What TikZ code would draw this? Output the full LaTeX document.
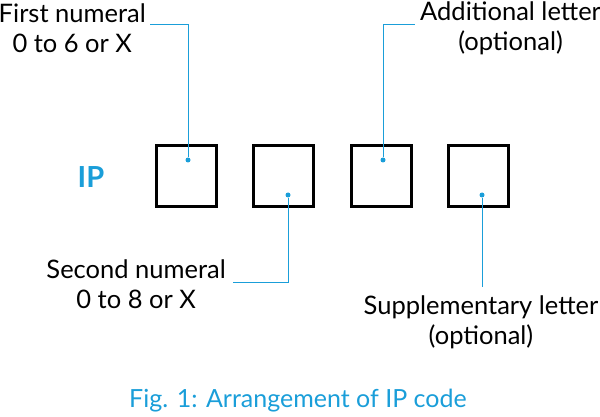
\documentclass[tikz,border=0pt]{standalone}
\usepackage{fontspec}
\setmainfont{Lato}
\usetikzlibrary{positioning}
\definecolor{ipblue}{HTML}{1A9ED9}
\tikzset{
  digit/.style={draw,line width=3pt,minimum size=60pt,inner sep=0pt},
  lbl/.style={font=\fontsize{25.5}{30}\selectfont,align=center,inner sep=0pt},
  dot/.style={circle,fill=ipblue,inner sep=0pt,minimum size=5pt},
  lead/.style={draw=ipblue,line width=1pt}
}
\begin{document}
\begin{tikzpicture}[x=1pt,y=-1pt]
  \useasboundingbox (0,0) rectangle (600,417);
  \node[text=ipblue,font=\fontsize{29}{32}\selectfont\bfseries] (ip) at (91,177) {IP};
  \node[digit] (b1) at (186,176) {};
  \node[digit] (b2) at (283,176) {};
  \node[digit] (b3) at (381,176) {};
  \node[digit] (b4) at (478,176) {};
  \node[dot] (d1) at (188,160) {};
  \node[dot] (d2) at (288,195) {};
  \node[dot] (d3) at (383,160) {};
  \node[dot] (d4) at (482,195) {};
  \node[lbl,anchor=east] (t1) at (146,28) {First numeral\\0 to 6 or X};
  \node[lbl,anchor=west] (t3) at (420,28) {Additional letter\\(optional)};
  \node[lbl,anchor=east] (t2) at (226,284) {Second numeral\\0 to 8 or X};
  \node[lbl] (t4) at (481,322) {Supplementary letter\\(optional)};
  \coordinate (c1) at (150,25);
  \coordinate (c3) at (415,25);
  \coordinate (c2) at (233,282);
  \coordinate (c4) at (482,287);
  \draw[lead] (d1) |- (c1);
  \draw[lead] (d3) |- (c3);
  \draw[lead] (d2) |- (c2);
  \draw[lead] (d4) -- (c4);
  \node[text=ipblue,font=\fontsize{25}{28}\selectfont] (cap) at (298,401) {Fig. 1: Arrangement of IP code};
\end{tikzpicture}
\end{document}
